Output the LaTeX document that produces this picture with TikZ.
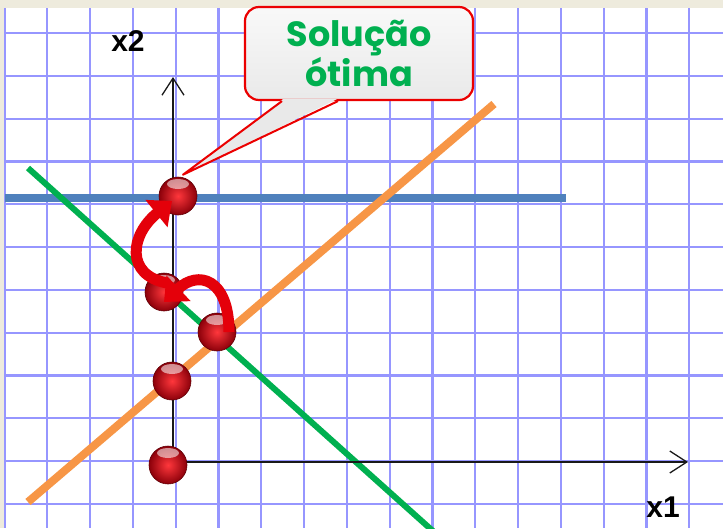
\documentclass[tikz,border=0pt]{standalone}
\usepackage{fontspec}
\setmainfont{Liberation Sans}
\newfontfamily\gothic{Poppins}
\usetikzlibrary{arrows.meta}
\definecolor{paper}{RGB}{238,235,221}
\definecolor{gridblue}{RGB}{150,150,255}
\definecolor{limitblue}{RGB}{79,129,189}
\definecolor{limitorange}{RGB}{247,150,70}
\definecolor{limitgreen}{RGB}{0,176,80}
\definecolor{jumpred}{RGB}{228,0,10}
\definecolor{boxred}{RGB}{235,0,0}
\definecolor{ballcore}{RGB}{255,55,60}
\definecolor{ballrim}{RGB}{140,0,10}
\tikzset{
  gridline/.style={gridblue, line width=2.2pt},
  axisline/.style={black!90, line width=1.8pt, -{Straight Barb[length=17pt,width=22pt,line width=1.3pt]}},
  axislabel/.style={inner sep=0pt, font=\bfseries\fontsize{30}{33}\selectfont},
  sphere/.style={circle, minimum size=38pt, inner sep=0pt, draw=ballrim!70!black, line width=0.6pt,
    inner color=ballcore, outer color=ballrim,
    path picture={\fill[white, opacity=0.55] ([yshift=-7pt]path picture bounding box.north) ellipse [x radius=11pt, y radius=5pt];}},
  calloutbox/.style={draw=boxred, line width=2.2pt, rounded corners=14pt, top color=gray!5, bottom color=gray!17,
    minimum width=228pt, minimum height=93pt, align=center, text=limitgreen,
    font=\gothic\bfseries\fontsize{35}{38}\selectfont},
  jump/.style={draw=jumpred, line width=11pt, -{Triangle[length=20pt,width=34pt]}}
}
\begin{document}
\begin{tikzpicture}[x=1pt, y=-1pt]
  % squared paper, pixel coordinates
  \useasboundingbox (0,0) rectangle (723,528);
  \fill[white] (0,0) rectangle (723,528);
  \foreach \k in {0,...,16}
    \draw[gridline] ({4.5+42.8*\k},0) -- ({4.5+42.8*\k},528);
  \foreach \k in {0,...,11}
    \draw[gridline] (0,{33+42.8*\k}) -- (723,{33+42.8*\k});
  \fill[paper] (0,0) rectangle (723,8);
  \fill[paper] (0,0) rectangle (4,528);
  % constraints
  \draw[limitblue, line width=8pt] (5,198) -- (566,198);
  \draw[limitorange, line width=8pt] (28,502) -- (494,104);
  \draw[limitgreen, line width=6pt] (28,168) -- (434,532);
  % axes
  \coordinate (origin) at (173,462);
  \coordinate (xtip) at (688,462);
  \coordinate (ytip) at (173,77);
  \draw[axisline] (origin) -- (xtip);
  \draw[axisline] (origin) -- (ytip);
  \node[axislabel] (xlab) at (663,507) {x1};
  \node[axislabel] (ylab) at (128,41) {x2};
  % trial points
  \node[sphere] (b1) at (178,196) {};
  \node[sphere] (b2) at (164,292) {};
  \node[sphere] (b3) at (217,332) {};
  \node[sphere] (b4) at (172,381) {};
  \node[sphere] (b5) at (168,465) {};
  % callout
  \node[calloutbox] (callout) at (359,53.5) {Solução\\ótima};
  \coordinate (tip) at ([xshift=5pt,yshift=2pt]b1.north);
  \fill[gray!17] ([xshift=-76pt,yshift=2pt]callout.south) -- (tip) -- ([xshift=-22pt,yshift=2pt]callout.south) -- cycle;
  \draw[boxred, line width=2pt, line join=round] ([xshift=-77pt]callout.south) -- (tip) -- ([xshift=-21pt]callout.south);
  % jumps
  \draw[jump] ([xshift=12pt]b3.center) .. controls +(0,-54) and +(34,-32) .. ([yshift=-10pt]b2.center);
  \draw[jump] ([xshift=3pt,yshift=9pt]b2.center) .. controls +(-42,-8) and +(-42,34) .. ([xshift=-6pt,yshift=-5pt]b1.center);
\end{tikzpicture}
\end{document}
